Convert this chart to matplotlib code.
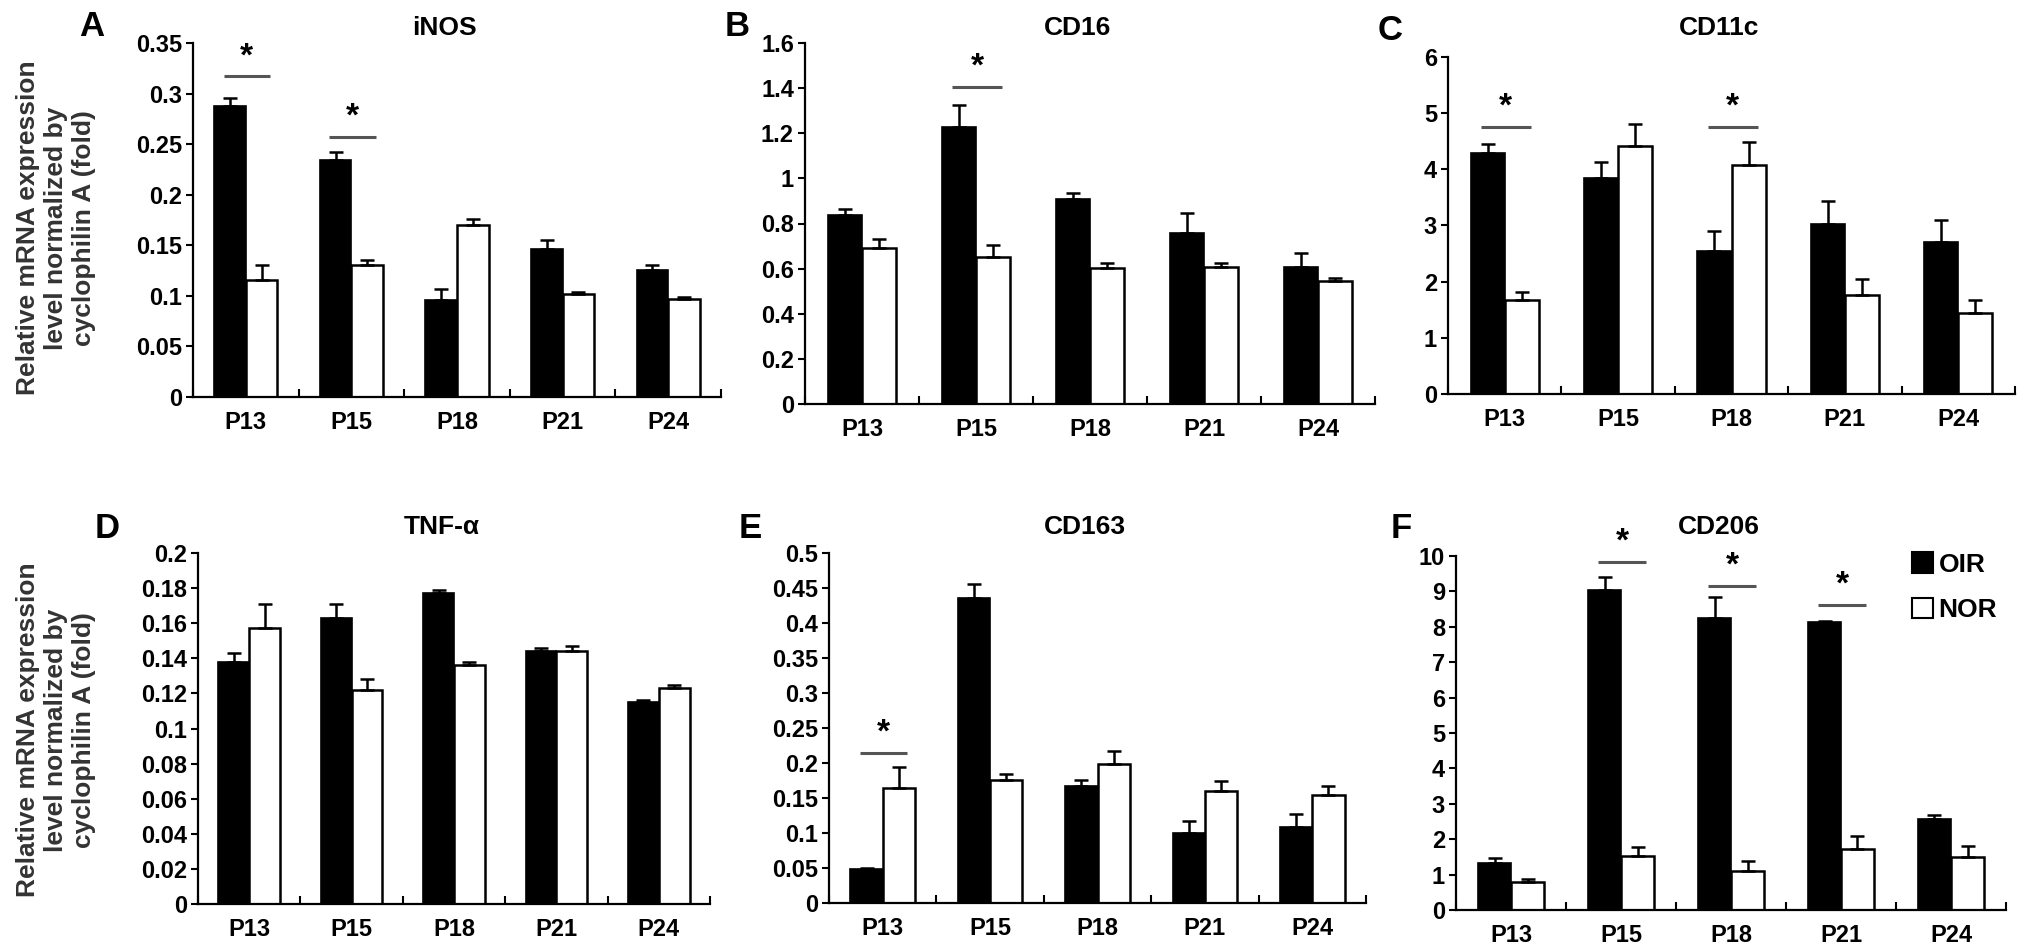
import numpy as np
import matplotlib
matplotlib.use("Agg")
from matplotlib import pyplot as plt
from matplotlib.patches import Patch

plt.rcParams['font.family'] = ['Liberation Sans', 'DejaVu Sans']
plt.rcParams['font.weight'] = 'bold'

days = ['P13', 'P15', 'P18', 'P21', 'P24']

# iNOS
inos_oir = [0.288, 0.234, 0.096, 0.146, 0.126]
inos_oir_err = [0.008, 0.008, 0.011, 0.009, 0.005]
inos_nor = [0.116, 0.131, 0.170, 0.102, 0.097]
inos_nor_err = [0.015, 0.004, 0.006, 0.002, 0.002]

# CD16
cd16_oir = [0.836, 1.226, 0.907, 0.757, 0.609]
cd16_oir_err = [0.027, 0.10, 0.027, 0.088, 0.062]
cd16_nor = [0.690, 0.653, 0.601, 0.609, 0.545]
cd16_nor_err = [0.043, 0.052, 0.025, 0.015, 0.012]

# CD11c
cd11c_oir = [4.29, 3.84, 2.54, 3.03, 2.71]
cd11c_oir_err = [0.16, 0.29, 0.37, 0.40, 0.39]
cd11c_nor = [1.68, 4.41, 4.08, 1.77, 1.44]
cd11c_nor_err = [0.13, 0.40, 0.40, 0.28, 0.24]

# TNF-a
tnf_oir = [0.138, 0.163, 0.177, 0.144, 0.115]
tnf_oir_err = [0.005, 0.008, 0.002, 0.002, 0.001]
tnf_nor = [0.157, 0.122, 0.136, 0.144, 0.123]
tnf_nor_err = [0.014, 0.006, 0.002, 0.003, 0.002]

# CD163
cd163_oir = [0.048, 0.436, 0.167, 0.100, 0.109]
cd163_oir_err = [0.002, 0.020, 0.009, 0.017, 0.018]
cd163_nor = [0.164, 0.176, 0.199, 0.160, 0.155]
cd163_nor_err = [0.030, 0.009, 0.018, 0.014, 0.012]

# CD206
cd206_oir = [1.32, 9.04, 8.26, 8.14, 2.56]
cd206_oir_err = [0.14, 0.38, 0.59, 0.03, 0.12]
cd206_nor = [0.80, 1.53, 1.11, 1.71, 1.50]
cd206_nor_err = [0.07, 0.24, 0.27, 0.38, 0.32]

# (group index, line height) for the significance marks
inos_sig = [(0, 0.317), (1, 0.257)]
cd16_sig = [(1, 1.407)]
cd11c_sig = [(0, 4.75), (2, 4.75)]
tnf_sig = []
cd163_sig = [(0, 0.214)]
cd206_sig = [(1, 9.83), (2, 9.15), (3, 8.62)]

W, H = 2031, 948
fig = plt.figure(figsize=(W / 100, H / 100), dpi=100)


def px_axes(l, t, r, b):
    return fig.add_axes([l / W, 1 - b / H, (r - l) / W, (b - t) / H])


def panel(box, letter, letter_xy, title, oir, oir_err, nor, nor_err, sig, top, step):
    ax = px_axes(*box)
    x = np.arange(len(days))
    w = 0.3
    ax.bar(x - w / 2, oir, w, color='black', edgecolor='black', linewidth=1.2)
    ax.bar(x + w / 2, nor, w, color='white', edgecolor='black', linewidth=1.8)
    ax.errorbar(x - w / 2, oir, yerr=[np.zeros(len(oir)), oir_err], fmt='none',
                ecolor='black', elinewidth=1.8, capsize=5, capthick=1.8)
    ax.errorbar(x + w / 2, nor, yerr=[np.zeros(len(nor)), nor_err], fmt='none',
                ecolor='black', elinewidth=1.8, capsize=5, capthick=1.8)
    for g, yl in sig:
        ax.plot([g - 0.21, g + 0.23], [yl, yl], color='#555555', lw=2.2, solid_capstyle='butt')
        ax.annotate('*', (g + 0.01, yl), xytext=(0, 3), textcoords='offset points',
                    ha='center', va='bottom', fontsize=24, fontweight='bold')
    ax.set_xlim(-0.5, len(days) - 0.5)
    ax.set_ylim(0, top)
    ticks = np.round(np.arange(0, top + step / 2, step), 4)
    ax.set_yticks(ticks)
    ax.set_yticklabels([f"{v:g}" for v in ticks])
    ax.set_xticks(x)
    ax.set_xticklabels(days)
    ax.set_xticks(np.arange(-0.5, len(days)), minor=True)
    ax.tick_params(axis='x', which='major', length=0, pad=10, labelsize=17)
    ax.tick_params(axis='x', which='minor', direction='in', length=6, width=1.5)
    ax.tick_params(axis='y', direction='out', length=5, width=1.5, pad=3, labelsize=17)
    for s in ['top', 'right']:
        ax.spines[s].set_visible(False)
    for s in ['left', 'bottom']:
        ax.spines[s].set_linewidth(1.6)
    cx = (box[0] + box[2]) / 2
    fig.text(cx / W - 0.006, 1 - 28 / H if box[1] < 300 else 1 - 527 / H, title,
             ha='center', va='center', fontsize=19, fontweight='bold')
    fig.text(letter_xy[0] / W, 1 - letter_xy[1] / H, letter, ha='center', va='center',
             fontsize=25, fontweight='bold')
    return ax


ylab = "Relative mRNA expression\nlevel normalized by\ncyclophilin A (fold)"

panel((193, 43, 721, 397), 'A', (92, 27), 'iNOS', inos_oir, inos_oir_err,
      inos_nor, inos_nor_err, inos_sig, 0.35, 0.05)
panel((805, 43, 1375, 404), 'B', (737, 27), 'CD16', cd16_oir, cd16_oir_err,
      cd16_nor, cd16_nor_err, cd16_sig, 1.6, 0.2)
panel((1448, 57, 2015, 394), 'C', (1390, 30), 'CD11c', cd11c_oir, cd11c_oir_err,
      cd11c_nor, cd11c_nor_err, cd11c_sig, 6, 1)
panel((198, 553, 710, 904), 'D', (107, 528), 'TNF-α', tnf_oir, tnf_oir_err,
      tnf_nor, tnf_nor_err, tnf_sig, 0.2, 0.02)
panel((829, 553, 1366, 903), 'E', (750, 528), 'CD163', cd163_oir, cd163_oir_err,
      cd163_nor, cd163_nor_err, cd163_sig, 0.5, 0.05)
axf = panel((1456, 556, 2006, 910), 'F', (1401, 528), 'CD206', cd206_oir, cd206_oir_err,
            cd206_nor, cd206_nor_err, cd206_sig, 10, 1)

handles = [Patch(facecolor='black', edgecolor='black', linewidth=1.5),
           Patch(facecolor='white', edgecolor='black', linewidth=1.5)]
axf.legend(handles, ['OIR', 'NOR'], loc='upper left', bbox_to_anchor=(0.81, 1.04),
           frameon=False, fontsize=19, handlelength=0.8, handleheight=0.8,
           handletextpad=0.2, labelspacing=0.8, borderaxespad=0)

fig.text(56 / W, 1 - 228 / H, ylab, rotation=90, ha='center', va='center',
         fontsize=19, fontweight='bold', color='#333333', multialignment='center',
         linespacing=1.2)
fig.text(56 / W, 1 - 730 / H, ylab, rotation=90, ha='center', va='center',
         fontsize=19, fontweight='bold', color='#333333', multialignment='center',
         linespacing=1.2)

fig.savefig('out.png', dpi=100)
